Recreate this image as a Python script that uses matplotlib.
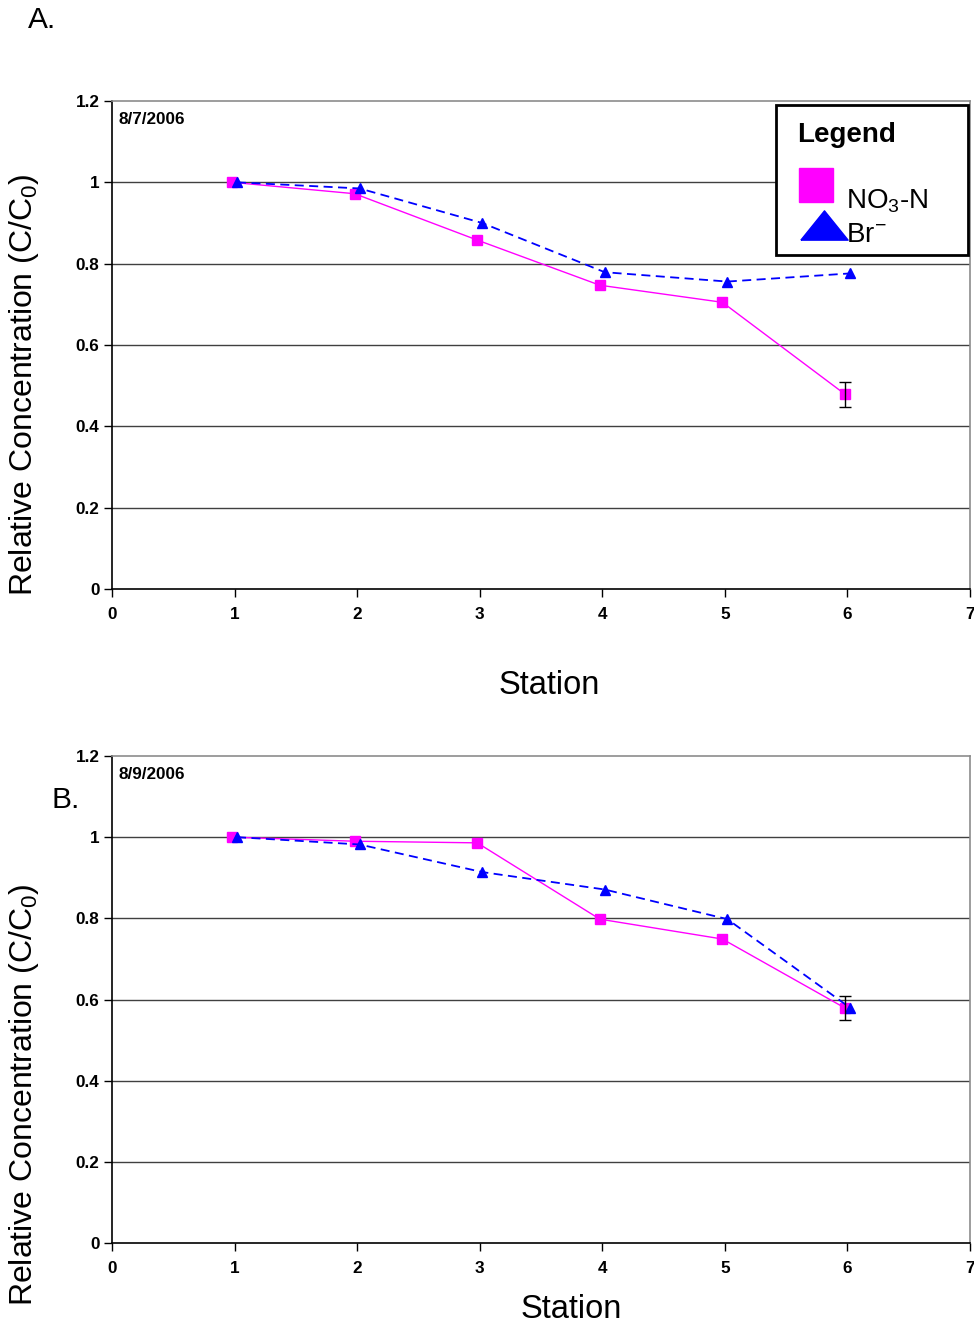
#!/usr/bin/env python3
"""
Relative concentration of NO3-N and Br- along the stations, two sampling dates
"""
import matplotlib
matplotlib.use("Agg")
import matplotlib.pyplot as plt
from matplotlib.patches import Rectangle

plt.rcParams['font.family'] = ['Liberation Sans', 'DejaVu Sans']
plt.rcParams['mathtext.default'] = 'regular'

stations = [1, 2, 3, 4, 5, 6]

# panel A, 8/7/2006
no3_a = [1.0, 0.972, 0.858, 0.747, 0.705, 0.479]
br_a = [1.0, 0.985, 0.900, 0.779, 0.756, 0.776]
no3_a_err = 0.031

# panel B, 8/9/2006
no3_b = [1.0, 0.990, 0.986, 0.798, 0.749, 0.579]
br_b = [1.0, 0.982, 0.914, 0.871, 0.798, 0.580]
no3_b_err = 0.029

yticks = [0, 0.2, 0.4, 0.6, 0.8, 1, 1.2]
ytick_labels = ['0', '0.2', '0.4', '0.6', '0.8', '1', '1.2']
xticks = [0, 1, 2, 3, 4, 5, 6, 7]

W, H = 974, 1325
MAGENTA = '#FF00FF'
BLUE = '#0000FF'
# flat triangle like the one in the original legend
FLAT_TRI = [(-1, -0.62), (1, -0.62), (0, 0.62), (-1, -0.62)]


def px(x, y):
    # pixel position -> figure fraction
    return x / W, 1 - y / H


def draw_panel(ax, no3, br, err, date_label):
    # the markers are slightly offset in x, like in the original sheet
    x_sq = [s - 0.02 for s in stations]
    x_tr = [s + 0.02 for s in stations]
    for yv in yticks[1:-1]:
        ax.axhline(yv, color='0.25', lw=1.0, zorder=1)
    ax.plot(x_sq, no3, color=MAGENTA, lw=1.0, marker='s', ms=6.5,
            mec=MAGENTA, mfc=MAGENTA, zorder=3)
    ax.plot(x_tr, br, color=BLUE, lw=1.3, ls=(0, (5, 3)), marker='^', ms=7.5,
            mec=BLUE, mfc=BLUE, zorder=4)
    ax.errorbar(x_sq[-1], no3[-1], yerr=err, fmt='none', ecolor='black',
                elinewidth=1.0, capsize=4, capthick=1.0, zorder=5)
    ax.set_xlim(0, 7)
    ax.set_ylim(0, 1.2)
    ax.set_xticks(xticks)
    ax.set_xticklabels([str(t) for t in xticks], fontsize=12.3, fontweight='bold')
    ax.set_yticks(yticks)
    ax.set_yticklabels(ytick_labels, fontsize=12.3, fontweight='bold')
    ax.tick_params(axis='both', direction='out', length=6, width=1, pad=3)
    ax.tick_params(axis='x', pad=7)
    for side in ('left', 'bottom'):
        ax.spines[side].set_color('black')
        ax.spines[side].set_linewidth(1.2)
    for side in ('top', 'right'):
        ax.spines[side].set_color('0.55')
        ax.spines[side].set_linewidth(1.2)
    ax.text(0.007, 0.963, date_label, transform=ax.transAxes, fontsize=12.3,
            fontweight='bold', va='center', ha='left')


def draw_legend(ax, left, top, right, bottom):
    # Excel-style legend box, placed in pixel units of the page
    pos = ax.get_position()
    x0 = pos.x0 * W
    y0 = (1 - pos.y1) * H
    wpx = pos.width * W
    hpx = pos.height * H

    def ac(xp, yp):
        return (xp - x0) / wpx, 1 - (yp - y0) / hpx

    bx, by = ac(left, bottom)
    bw, bh = (right - left) / wpx, (bottom - top) / hpx
    ax.add_patch(Rectangle((bx, by), bw, bh, transform=ax.transAxes,
                           facecolor='white', edgecolor='black', lw=2,
                           zorder=10, clip_on=False))
    ax.text(*ac(left + 21, top + 30), 'Legend', transform=ax.transAxes,
            fontsize=20, fontweight='bold', ha='left', va='center', zorder=11)
    ax.plot(*ac(left + 40, top + 80), transform=ax.transAxes, ls='none',
            marker='s', ms=24, mfc=MAGENTA, mec=MAGENTA, zorder=11, clip_on=False)
    ax.text(*ac(left + 70, top + 96), 'NO$_3$-N', transform=ax.transAxes,
            fontsize=20, ha='left', va='center', zorder=11)
    ax.plot(*ac(left + 48, top + 120), transform=ax.transAxes, ls='none',
            marker=FLAT_TRI, ms=34, mfc=BLUE, mec=BLUE, zorder=11, clip_on=False)
    ax.text(*ac(left + 70, top + 130), 'Br$^{-}$', transform=ax.transAxes,
            fontsize=20, ha='left', va='center', zorder=12)


fig = plt.figure(figsize=(W / 100, H / 100), dpi=100)

ax_a = fig.add_axes([112 / W, 1 - 589 / H, 858 / W, 488 / H])
ax_b = fig.add_axes([112 / W, 1 - 1243 / H, 858 / W, 487 / H])

draw_panel(ax_a, no3_a, br_a, no3_a_err, '8/7/2006')
draw_panel(ax_b, no3_b, br_b, no3_b_err, '8/9/2006')

draw_legend(ax_a, 776, 105, 968, 255)

# panel letters and axis titles
fig.text(*px(28, 20), 'A.', fontsize=21.5, ha='left', va='center')
fig.text(*px(52, 800), 'B.', fontsize=21.5, ha='left', va='center')

fig.text(*px(24, 385), 'Relative Concentration (C/C$_0$)', fontsize=23,
         rotation=90, ha='center', va='center')
fig.text(*px(24, 1095), 'Relative Concentration (C/C$_0$)', fontsize=23,
         rotation=90, ha='center', va='center')
fig.text(*px(549, 686), 'Station', fontsize=23.5, ha='center', va='center')
fig.text(*px(571, 1310), 'Station', fontsize=23.5, ha='center', va='center')

plt.savefig('out.png', dpi=100)
